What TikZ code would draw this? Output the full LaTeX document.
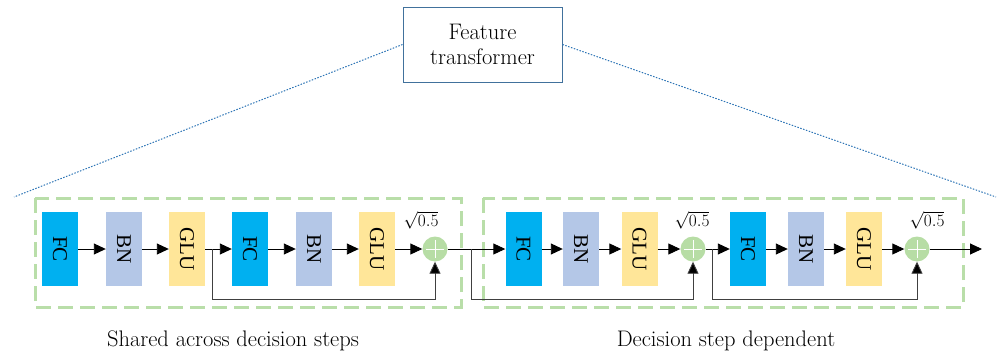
\documentclass[tikz,border=0pt]{standalone}
\usepackage{fontspec}
\newfontfamily\timesfont{Liberation Serif}
\usetikzlibrary{arrows.meta}
\definecolor{fcblue}{HTML}{00B0F0}
\definecolor{bnblue}{HTML}{B4C7E7}
\definecolor{gluyellow}{HTML}{FFE699}
\definecolor{sumgreen}{HTML}{B7DDA5}
\definecolor{framegreen}{HTML}{B9DEA9}
\definecolor{boxblue}{HTML}{41719C}
\definecolor{zoomblue}{HTML}{2E75B6}
\definecolor{skipgray}{HTML}{404040}
\tikzset{
  layer/.style={minimum width=36pt, minimum height=74pt, inner sep=0pt,
    font=\timesfont\fontsize{21}{21}\selectfont},
  fclayer/.style={layer, fill=fcblue},
  bnlayer/.style={layer, fill=bnblue},
  glulayer/.style={layer, fill=gluyellow},
  sumnode/.style={circle, fill=sumgreen, minimum size=25pt, inner sep=0pt,
    path picture={\draw[white, line width=0.8pt]
      ([xshift=-9pt]path picture bounding box.center) -- ([xshift=9pt]path picture bounding box.center)
      ([yshift=-9pt]path picture bounding box.center) -- ([yshift=9pt]path picture bounding box.center);}},
  flow/.style={draw=black, line width=0.9pt, -{Triangle[length=12pt,width=11pt]}},
  skip/.style={draw=skipgray, line width=0.9pt},
  skiparrow/.style={skip, -{Triangle[length=12pt,width=11pt,fill=black]}},
  groupframe/.style={draw=framegreen, line width=3pt, dash pattern=on 15pt off 7pt},
  zoomline/.style={draw=zoomblue, line width=1pt, dash pattern=on 1.5pt off 1.5pt},
  rootlabel/.style={font=\fontsize{16}{16}\selectfont},
  caption/.style={font=\fontsize{22.5}{26}\selectfont}
}
\begin{document}
\begin{tikzpicture}[x=1pt, y=-1pt]
\useasboundingbox (0,0) rectangle (997,356);

% title box and its zoom lines
\node[draw=boxblue, line width=1pt, minimum width=159pt, minimum height=75pt,
  align=center, font=\fontsize{22.5}{25}\selectfont] (ft) at (482.5,44.5) {Feature\\transformer};
\coordinate (zl) at (14,197);
\coordinate (zr) at (996,197);
\draw[zoomline] (ft.west) -- (zl);
\draw[zoomline] (ft.east) -- (zr);

% group frames
\draw[groupframe] (35,198) rectangle (461,307);
\draw[groupframe] (483,198) rectangle (963,307);

% shared block
\node[fclayer]  (fc1)  at (60,249)  {\rotatebox{-90}{FC}};
\node[bnlayer]  (bn1)  at (124,249) {\rotatebox{-90}{BN}};
\node[glulayer] (glu1) at (187,249) {\rotatebox{-90}{GLU}};
\node[fclayer]  (fc2)  at (250,249) {\rotatebox{-90}{FC}};
\node[bnlayer]  (bn2)  at (314,249) {\rotatebox{-90}{BN}};
\node[glulayer] (glu2) at (377,249) {\rotatebox{-90}{GLU}};
\node[sumnode]  (s1)   at (435,249) {};
\node[rootlabel] (r1) at (421,220) {$\sqrt{0.5}$};

% decision-step block
\node[fclayer]  (fc3)  at (523.5,249) {\rotatebox{-90}{FC}};
\node[bnlayer]  (bn3)  at (581,249)   {\rotatebox{-90}{BN}};
\node[glulayer] (glu3) at (639.5,249) {\rotatebox{-90}{GLU}};
\node[sumnode]  (s2)   at (693,249)   {};
\node[rootlabel] (r2) at (692,220) {$\sqrt{0.5}$};
\node[fclayer]  (fc4)  at (748,249) {\rotatebox{-90}{FC}};
\node[bnlayer]  (bn4)  at (806,249) {\rotatebox{-90}{BN}};
\node[glulayer] (glu4) at (864,249) {\rotatebox{-90}{GLU}};
\node[sumnode]  (s3)   at (917,249) {};
\node[rootlabel] (r3) at (927,220) {$\sqrt{0.5}$};
\coordinate (out) at (982,249);

% main flow
\draw[flow] (fc1) -- (bn1);
\draw[flow] (bn1) -- (glu1);
\draw[flow] (glu1) -- (fc2);
\draw[flow] (fc2) -- (bn2);
\draw[flow] (bn2) -- (glu2);
\draw[flow] (glu2) -- (s1);
\draw[flow] (s1) -- (fc3);
\draw[flow] (fc3) -- (bn3);
\draw[flow] (bn3) -- (glu3);
\draw[flow] (glu3) -- (s2);
\draw[flow] (s2) -- (fc4);
\draw[flow] (fc4) -- (bn4);
\draw[flow] (bn4) -- (glu4);
\draw[flow] (glu4) -- (s3);
\draw[flow] (s3) -- (out);

% residual connections
\coordinate (b1) at (212,249);
\coordinate (b2) at (471,249);
\coordinate (b3) at (712,249);
\draw[skiparrow] (b1) -- (212,299) -| (s1.south);
\draw[skiparrow] (b2) -- (471,299) -| (s2.south);
\draw[skiparrow] (b3) -- (712,299) -| (s3.south);

% captions
\node[caption] (cap1) at (233,341) {Shared across decision steps};
\node[caption] (cap2) at (726,341) {Decision step dependent};
\end{tikzpicture}
\end{document}
